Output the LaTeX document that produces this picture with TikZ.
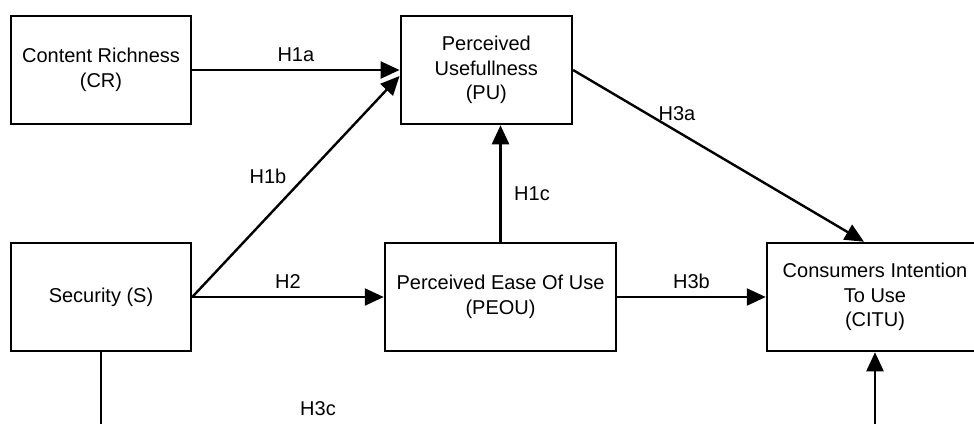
\documentclass[tikz,border=0pt]{standalone}
\usepackage{fontspec}
\setmainfont{Liberation Sans}
\usetikzlibrary{arrows.meta}
\begin{document}
\begin{tikzpicture}[x=0.5pt,y=-0.5pt,
  box/.style={draw=black,line width=1.25pt,minimum width=90pt,minimum height=54pt,
    align=center,font=\fontsize{10}{12.25}\selectfont,inner sep=0pt},
  conn/.style={line width=1.2pt,-{Triangle[length=9.5pt,width=8.5pt]}},
  lbl/.style={font=\fontsize{10}{12}\selectfont,inner sep=0pt}]
\useasboundingbox (0,0) rectangle (974,423);
\clip (0,0) rectangle (974,423);
\node[box] (CR) at (101,70) {Content Richness\\(CR)};
\node[box,minimum width=85.5pt] (PU) at (486.3,70) {Perceived\\Usefullness\\(PU)};
\node[box] (S) at (101,297) {Security (S)};
\node[box,minimum width=115.5pt] (PEOU) at (500.5,297) {Perceived Ease Of Use\\(PEOU)};
\node[box,minimum width=108pt] (CITU) at (875,297) {Consumers Intention\\To Use\\(CITU)};
\coordinate (PUa) at ([yshift=-3pt]PU.west);
\coordinate (Sbot) at (101,445);
\coordinate (Cbot) at (875,445);
\draw[conn] (CR.east) -- (PU.west) node[lbl,midway,above=3.5pt] {H1a};
\draw[conn] (S.east) -- (PUa);
\node[lbl] (h1b) at (268,176) {H1b};
\draw[conn] (PEOU.north) -- (PEOU.north |- PU.south);
\node[lbl] (h1c) at (532,194) {H1c};
\draw[conn] (S.east) -- (PEOU.west) node[lbl,midway,above=3.5pt] {H2};
\draw[conn] (PU.east) -- ([xshift=-5.5pt]CITU.north);
\node[lbl] (h3a) at (677,114) {H3a};
\draw[conn] (PEOU.east) -- (CITU.west) node[lbl,midway,above=3.5pt] {H3b};
\draw[conn] (S.south) -- (Sbot) -- (Cbot) -- (CITU.south);
\node[lbl] (h3c) at (318,409) {H3c};
\end{tikzpicture}
\end{document}
